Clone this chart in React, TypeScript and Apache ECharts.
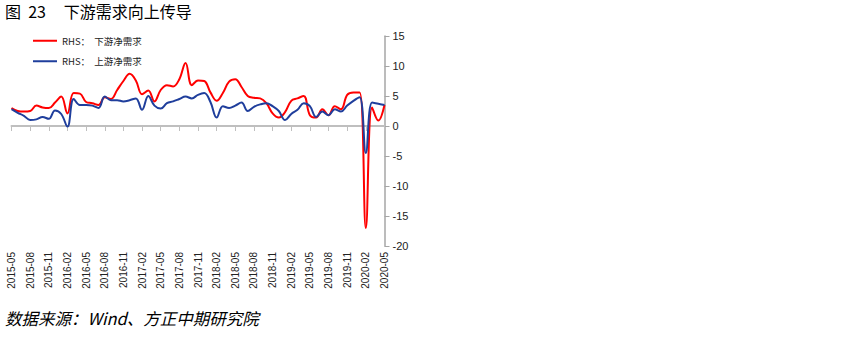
import React, { useEffect, useRef } from "react";
import * as echarts from "echarts";

const months: string[] = [];
for (let y = 2015; y <= 2020; y++) {
  for (let m = 1; m <= 12; m++) {
    if ((y === 2015 && m < 5) || (y === 2020 && m > 5)) continue;
    months.push(`${y}-${m < 10 ? "0" + m : m}`);
  }
}

const downstream = [
  3.0, 2.5, 2.4, 2.5, 3.4, 3.1, 3.0, 3.9, 4.9, 2.1,
  5.5, 5.4, 4.0, 3.8, 3.5, 4.8, 4.5, 6.0, 7.5, 8.7,
  7.6, 5.3, 5.9, 4.1, 6.0, 6.8, 6.6, 7.8, 10.5, 6.8,
  7.6, 7.5, 5.6, 4.2, 5.5, 7.4, 7.8, 6.5, 5.0, 4.7,
  4.6, 3.8, 2.1, 1.4, 2.3, 4.2, 4.6, 5.0, 1.8, 1.4,
  2.8, 1.8, 3.3, 2.8, 5.2, 5.6, 5.6, -17.0, 3.1, 0.9,
  3.5,
];

const upstream = [
  2.8, 2.2, 1.7, 1.0, 1.1, 1.5, 1.2, 2.6, 2.0, -0.1,
  4.5, 3.5, 3.5, 3.4, 3.0, 4.9, 4.3, 4.3, 4.1, 4.3,
  4.6, 2.7, 5.0, 3.4, 2.9, 3.8, 4.1, 4.5, 4.9, 4.6,
  5.2, 5.5, 4.0, 1.4, 3.3, 3.0, 3.4, 3.9, 2.5, 3.2,
  3.6, 3.8, 3.3, 2.5, 1.0, 2.0, 2.7, 3.8, 3.3, 1.5,
  2.4, 1.8, 2.8, 2.4, 3.4, 4.2, 4.8, -4.5, 3.9, 3.7,
  3.5,
];

const seriesNames = ["RHS：  下游净需求", "RHS：  上游净需求"];
const titleText = "图  23     下游需求向上传导";
const sourceText = "数据来源：Wind、方正中期研究院";

export default function App() {
  const ref = useRef<HTMLDivElement>(null);
  useEffect(() => {
    if (!ref.current) return;
    const chart = echarts.init(ref.current, null, { renderer: "svg" });
    const font = "'Noto Sans CJK SC', 'Liberation Sans', sans-serif";
    chart.setOption({
      animation: false,
      grid: { left: 11.5, right: 461.5, top: 36, bottom: 101, containLabel: false },
      legend: {
        orient: "vertical",
        left: 28,
        top: 31,
        itemGap: 11,
        itemWidth: 24,
        itemHeight: 2,
        icon: "rect",
        textStyle: { fontSize: 9.5, color: "#222", fontFamily: font },
        data: seriesNames,
      },
      xAxis: [
        {
          type: "category",
          data: months,
          boundaryGap: false,
          position: "bottom",
          axisLine: { show: false, onZero: false },
          axisTick: { show: false },
          axisLabel: {
            rotate: 90,
            interval: 2,
            fontSize: 10,
            color: "#222",
            margin: 6,
            fontFamily: "'Liberation Sans', sans-serif",
          },
        },
        {
          type: "category",
          data: months,
          boundaryGap: false,
          position: "bottom",
          axisLine: { show: true, onZero: true, onZeroAxisIndex: 0, lineStyle: { color: "#bfbfbf", width: 2 } },
          axisTick: { show: true, interval: 2, length: 5, lineStyle: { color: "#bfbfbf", width: 1 } },
          axisLabel: { show: false },
        },
      ],
      yAxis: {
        type: "value",
        position: "right",
        min: -20,
        max: 15,
        interval: 5,
        splitLine: { show: false },
        axisLine: { show: true, lineStyle: { color: "#a6a6a6", width: 1.5 } },
        axisTick: { show: true, length: 5, lineStyle: { color: "#a6a6a6" } },
        axisLabel: { fontSize: 11, color: "#222", margin: 8, fontFamily: "'Liberation Sans', sans-serif" },
      },
      series: [
        {
          name: seriesNames[0],
          type: "line",
          data: downstream,
          smooth: 0.4,
          symbol: "none",
          lineStyle: { color: "#ff0000", width: 2 },
          itemStyle: { color: "#ff0000" },
          z: 2,
        },
        {
          name: seriesNames[1],
          type: "line",
          data: upstream,
          smooth: 0.4,
          symbol: "none",
          lineStyle: { color: "#1f3e9c", width: 2 },
          itemStyle: { color: "#1f3e9c" },
          z: 3,
        },
      ],
      graphic: [
        {
          type: "text",
          left: 5,
          top: 3,
          style: { text: titleText, fontSize: 16, fill: "#000", fontFamily: font },
        },
        {
          type: "text",
          left: 5,
          top: 310,
          style: { text: sourceText, fontSize: 16.5, fontStyle: "italic", fill: "#000", fontFamily: font },
        },
      ],
    });
    return () => chart.dispose();
  }, []);
  return (
    <div style={{ position: "absolute", left: 0, top: 0 }}>
      <div ref={ref} style={{ width: 846, height: 347 }} />
    </div>
  );
}
